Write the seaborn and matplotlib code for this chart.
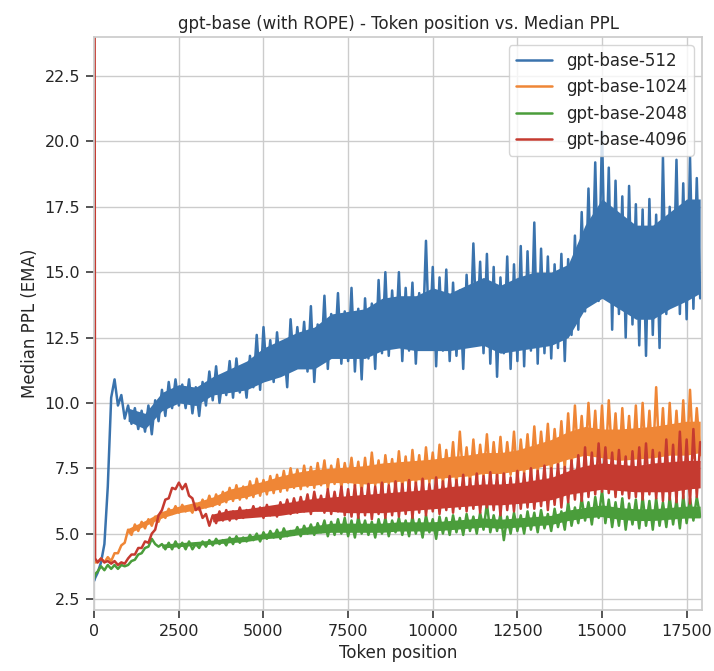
import numpy as np
import matplotlib
matplotlib.use("Agg")
import matplotlib.pyplot as plt
import seaborn as sns

# token positions: first point, a tiny step, then every 100 tokens
token_pos = [0, 25] + list(range(100, 18000, 100))

ppl_512 = [
    3.2, 3.3,
    3.5, 3.9, 4.6, 6.8, 10.2, 10.9, 9.9, 10.3, 9.4,
    9.9, 9.2, 9.8, 9.0, 9.7, 8.9, 9.9, 8.8, 10.1, 9.3,
    10.5, 9.5, 10.8, 9.8, 10.9, 9.9, 10.7, 9.8, 10.9, 9.6,
    10.6, 9.5, 10.8, 9.9, 11.2, 10.1, 11.4, 10.0, 11.0, 10.3,
    11.6, 10.2, 11.7, 10.4, 11.3, 10.2, 11.8, 10.6, 12.6, 10.5,
    12.9, 11.0, 12.4, 10.8, 12.7, 11.2, 12.2, 10.6, 13.2, 11.4,
    12.9, 11.5, 13.1, 11.2, 13.7, 10.8, 13.0, 11.6, 14.1, 11.3,
    13.4, 11.8, 14.2, 11.5, 13.5, 11.6, 14.4, 11.2, 13.6, 10.9,
    14.0, 11.7, 13.8, 11.3, 14.7, 11.9, 15.0, 11.8, 14.3, 12.2,
    15.0, 11.6, 14.4, 12.0, 14.6, 11.5, 14.2, 12.3, 16.2, 12.1,
    15.2, 11.4, 14.8, 12.0, 15.1, 11.6, 14.6, 11.8, 14.3, 11.3,
    14.9, 12.2, 16.1, 12.6, 15.4, 11.9, 15.7, 11.5, 15.2, 11.0,
    14.8, 11.9, 15.6, 11.3, 15.3, 11.6, 16.0, 11.4, 15.8, 12.0,
    16.9, 11.5, 15.9, 11.9, 15.6, 11.7, 15.3, 12.1, 15.7, 11.6,
    15.5, 12.6, 16.4, 12.8, 17.3, 13.5, 18.2, 14.0, 19.2, 13.9,
    20.4, 14.2, 19.0, 12.8, 18.5, 13.4, 17.9, 12.5, 18.3, 13.0,
    17.6, 12.2, 17.4, 11.8, 17.8, 12.6, 17.2, 12.1, 19.4, 13.4,
    17.5, 13.8, 19.3, 13.4, 18.4, 13.2, 19.4, 13.6, 18.6, 14.0,
]

ppl_1024 = [
    3.9, 3.9,
    3.9, 4.05, 3.9, 4.1, 3.95, 4.25, 4.25, 4.55, 4.65,
    5.15, 4.95, 5.35, 5.1, 5.45, 5.2, 5.55, 5.3, 5.65, 5.45,
    5.8, 5.6, 5.95, 5.75, 6.05, 5.8, 6.1, 5.85, 6.0, 5.8,
    6.15, 5.9, 6.3, 6.0, 6.45, 6.05, 6.5, 6.1, 6.6, 6.2,
    6.75, 6.25, 6.85, 6.3, 6.8, 6.35, 7.0, 6.4, 7.1, 6.45,
    7.05, 6.5, 7.2, 6.55, 7.25, 6.6, 7.4, 6.65, 7.5, 6.75,
    7.45, 6.7, 7.6, 6.8, 7.55, 6.75, 7.7, 6.85, 7.8, 6.7,
    7.6, 6.9, 7.85, 6.75, 7.7, 6.95, 7.9, 6.8, 7.75, 6.6,
    7.9, 6.7, 8.1, 6.85, 7.8, 6.55, 8.0, 6.9, 7.85, 6.7,
    8.15, 6.75, 7.95, 6.6, 8.2, 6.9, 8.0, 6.7, 8.3, 6.95,
    8.1, 6.8, 8.4, 6.9, 8.2, 7.0, 8.5, 6.85, 8.9, 7.1,
    8.3, 6.95, 8.6, 7.05, 8.4, 7.2, 8.8, 7.0, 8.5, 7.15,
    8.7, 7.1, 8.5, 7.25, 8.9, 7.0, 8.6, 7.3, 8.8, 7.2,
    9.1, 7.35, 8.9, 7.5, 9.2, 7.3, 9.0, 7.55, 9.3, 7.45,
    9.6, 7.6, 9.9, 7.8, 9.5, 7.7, 10.0, 7.85, 9.7, 7.6,
    9.9, 7.5, 10.1, 7.8, 9.6, 7.45, 9.8, 7.7, 9.5, 7.6,
    9.9, 7.5, 10.0, 7.8, 9.7, 7.6, 10.6, 7.7, 9.8, 7.55,
    10.0, 7.8, 9.7, 7.6, 10.1, 7.7, 10.5, 7.9, 9.8, 8.0,
]

ppl_2048 = [
    3.3, 3.45,
    3.55, 3.75, 3.6, 3.8, 3.65, 3.8, 3.65, 3.8, 3.75,
    3.8, 3.95, 4.0, 4.2, 4.25, 4.45, 4.5, 4.8, 4.6, 4.5,
    4.6, 4.4, 4.65, 4.4, 4.7, 4.45, 4.65, 4.4, 4.7, 4.4,
    4.6, 4.45, 4.7, 4.5, 4.75, 4.55, 4.8, 4.6, 4.75, 4.55,
    4.85, 4.6, 4.9, 4.65, 4.85, 4.7, 4.95, 4.75, 5.0, 4.7,
    5.05, 4.8, 5.1, 4.85, 5.15, 4.8, 5.2, 4.9, 5.1, 4.95,
    5.25, 4.9, 5.3, 5.0, 5.35, 4.95, 5.4, 5.05, 5.5, 4.9,
    5.45, 4.95, 5.55, 5.0, 5.6, 4.9, 5.5, 4.85, 5.65, 5.0,
    5.5, 4.95, 5.45, 4.85, 5.55, 5.0, 5.6, 4.9, 5.5, 5.05,
    5.6, 4.95, 5.5, 4.9, 5.65, 5.0, 5.55, 4.85, 5.7, 5.05,
    5.55, 4.8, 5.65, 5.0, 5.6, 4.95, 5.7, 5.05, 5.6, 4.95,
    5.75, 5.1, 5.65, 5.0, 5.8, 5.15, 6.15, 5.05, 5.7, 5.1,
    5.75, 4.75, 5.65, 5.0, 5.8, 5.1, 5.7, 5.0, 5.85, 5.15,
    5.8, 5.05, 5.9, 5.2, 5.75, 5.1, 5.95, 5.25, 5.85, 5.15,
    6.2, 5.3, 6.0, 5.4, 6.35, 5.5, 6.2, 5.35, 6.4, 5.6,
    6.65, 5.4, 6.3, 5.25, 6.2, 5.3, 6.35, 5.15, 6.15, 5.35,
    6.3, 5.2, 6.4, 5.3, 6.25, 5.15, 6.35, 5.3, 6.2, 5.25,
    6.4, 5.35, 6.3, 5.2, 6.45, 5.4, 6.35, 5.5, 6.4, 5.65,
]

ppl_4096 = [
    40.0, 4.05,
    3.9, 4.05, 3.9, 3.95, 3.85, 3.95, 3.8, 3.9, 3.85,
    4.05, 4.2, 4.2, 4.45, 4.45, 4.7, 4.65, 5.0, 5.15, 5.7,
    5.9, 6.3, 6.35, 6.75, 6.7, 6.95, 6.7, 6.9, 6.45, 6.35,
    5.9, 6.0, 5.6, 5.75, 5.3, 5.7, 5.4, 5.85, 5.5, 5.9,
    5.5, 5.85, 5.55, 6.0, 5.6, 5.9, 5.65, 6.05, 5.7, 6.0,
    5.6, 6.1, 5.7, 6.0, 5.65, 6.2, 5.8, 6.3, 5.75, 6.35,
    5.8, 6.4, 5.85, 6.5, 5.75, 6.6, 5.9, 6.45, 5.8, 6.7,
    5.75, 6.6, 5.85, 6.8, 5.7, 6.7, 5.65, 6.85, 5.6, 6.75,
    5.7, 6.9, 5.55, 6.8, 5.75, 6.95, 5.6, 6.85, 5.7, 7.0,
    5.65, 6.9, 5.75, 7.05, 5.6, 6.95, 5.8, 7.1, 5.7, 6.9,
    5.85, 7.15, 5.75, 7.0, 5.9, 7.2, 5.8, 7.05, 5.95, 7.25,
    5.85, 7.1, 5.95, 7.3, 5.8, 7.2, 6.0, 7.35, 5.9, 7.25,
    5.7, 7.3, 5.9, 7.15, 5.85, 7.4, 5.95, 7.3, 6.0, 7.5,
    5.95, 7.4, 6.05, 7.6, 5.9, 7.5, 6.1, 7.65, 6.0, 7.55,
    6.2, 7.8, 6.3, 8.0, 6.25, 8.3, 6.4, 8.1, 6.5, 8.45,
    6.6, 8.3, 6.55, 8.1, 6.4, 8.2, 6.5, 7.95, 6.35, 8.15,
    6.4, 8.3, 6.3, 8.45, 6.5, 8.2, 6.35, 8.1, 6.25, 8.6,
    6.3, 8.4, 6.2, 8.9, 6.35, 8.6, 6.15, 9.0, 6.4, 8.5,
]

# dense core of each noisy curve, read every 500 tokens (nan = no band there)
band_pos = list(range(500, 18000, 500)) + [17900]
nan = np.nan

core_512_lo = [nan, 9.3, 9.0, 9.7, 10.0, 9.9, 10.3, 10.4, 10.5, 10.8, 11.0, 11.3,
               11.3, 11.7, 11.7, 11.7, 12.0, 12.1, 12.0, 12.0, 12.0, 12.1, 12.2, 11.9,
               12.0, 12.1, 12.2, 12.5, 13.6, 14.0, 13.6, 13.2, 13.2, 13.6, 13.9, 14.2]
core_512_hi = [nan, 9.8, 9.6, 10.4, 10.7, 10.6, 11.0, 11.3, 11.6, 12.1, 12.4, 12.7,
               12.9, 13.4, 13.5, 13.6, 14.0, 14.1, 14.1, 14.4, 14.2, 14.5, 14.8, 14.5,
               14.8, 15.0, 15.0, 15.3, 16.8, 17.8, 17.3, 16.8, 16.8, 17.3, 17.8, 17.8]

core_1024_lo = [nan, 5.0, 5.3, 5.6, 5.8, 5.9, 6.05, 6.3, 6.4, 6.6, 6.7, 6.8,
                6.85, 6.95, 6.95, 6.9, 6.95, 7.0, 7.05, 7.1, 7.15, 7.2, 7.3, 7.3,
                7.4, 7.5, 7.65, 7.85, 8.0, 7.9, 7.8, 7.85, 7.9, 8.0, 8.0, 8.1]
core_1024_hi = [nan, 5.2, 5.5, 5.85, 6.05, 6.2, 6.4, 6.7, 6.85, 7.0, 7.2, 7.35,
                7.45, 7.5, 7.55, 7.6, 7.7, 7.75, 7.8, 7.85, 7.95, 8.0, 8.1, 8.1,
                8.2, 8.4, 8.6, 8.9, 9.1, 9.0, 9.0, 9.05, 9.1, 9.2, 9.3, 9.3]

core_2048_lo = [nan, nan, nan, 4.45, 4.5, 4.55, 4.6, 4.65, 4.7, 4.8, 4.85, 4.95,
                5.0, 5.05, 5.05, 5.05, 5.05, 5.1, 5.1, 5.1, 5.15, 5.2, 5.25, 5.2,
                5.25, 5.3, 5.35, 5.5, 5.6, 5.65, 5.55, 5.5, 5.5, 5.55, 5.6, 5.6]
core_2048_hi = [nan, nan, nan, 4.6, 4.65, 4.7, 4.75, 4.85, 4.9, 5.0, 5.1, 5.2,
                5.3, 5.4, 5.4, 5.4, 5.4, 5.45, 5.45, 5.45, 5.5, 5.55, 5.6, 5.55,
                5.6, 5.65, 5.7, 5.9, 6.0, 6.1, 6.0, 5.95, 5.95, 6.0, 6.05, 6.05]

core_4096_lo = [nan, nan, nan, nan, nan, nan, 5.45, 5.55, 5.6, 5.65, 5.7, 5.8,
                5.85, 5.85, 5.8, 5.8, 5.8, 5.85, 5.9, 5.95, 6.0, 6.05, 6.1, 6.1,
                6.15, 6.2, 6.3, 6.5, 6.6, 6.7, 6.65, 6.6, 6.6, 6.6, 6.7, 6.75]
core_4096_hi = [nan, nan, nan, nan, nan, nan, 5.75, 5.9, 5.95, 6.05, 6.15, 6.25,
                6.35, 6.4, 6.45, 6.5, 6.55, 6.6, 6.65, 6.7, 6.8, 6.85, 6.9, 6.9,
                6.95, 7.05, 7.15, 7.4, 7.6, 7.7, 7.65, 7.6, 7.7, 7.75, 7.8, 7.8]

model_names = ["gpt-base-512", "gpt-base-1024", "gpt-base-2048", "gpt-base-4096"]
line_colors = ["#3a73ad", "#ef8636", "#4a9d3b", "#c53a30"]

curves = [ppl_512, ppl_1024, ppl_2048, ppl_4096]
cores = [(core_512_lo, core_512_hi), (core_1024_lo, core_1024_hi),
         (core_2048_lo, core_2048_hi), (core_4096_lo, core_4096_hi)]

sns.set_theme(style="whitegrid", rc={"xtick.bottom": True, "ytick.left": True})

fig = plt.figure(figsize=(7.14, 6.71), dpi=100)
ax = fig.add_axes([0.132, 0.091, 0.851, 0.854])

for i, (name, vals, (lo, hi), col) in enumerate(zip(model_names, curves, cores, line_colors)):
    z = 2 + i * 0.1
    ax.fill_between(band_pos, lo, hi, color=col, linewidth=0, zorder=z)
    sns.lineplot(x=token_pos, y=vals, color=col, label=name, linewidth=1.8,
                 sort=False, zorder=z, ax=ax)

ax.set_xlim(0, 17950)
ax.set_ylim(2.08, 24.0)
ax.set_xticks(range(0, 17501, 2500))
ax.set_yticks([2.5, 5.0, 7.5, 10.0, 12.5, 15.0, 17.5, 20.0, 22.5])
ax.tick_params(axis="both", labelsize=11.5, length=6, color=".25", pad=4)
ax.set_xlabel("Token position", fontsize=12)
ax.set_ylabel("Median PPL (EMA)", fontsize=12)
ax.set_title("gpt-base (with ROPE) - Token position vs. Median PPL", fontsize=12)

leg = ax.legend(loc="upper right", fontsize=12, handlelength=2.2)
leg.set_zorder(5)
for line in leg.get_lines():
    line.set_linewidth(1.8)

fig.savefig("out.png", dpi=100)
